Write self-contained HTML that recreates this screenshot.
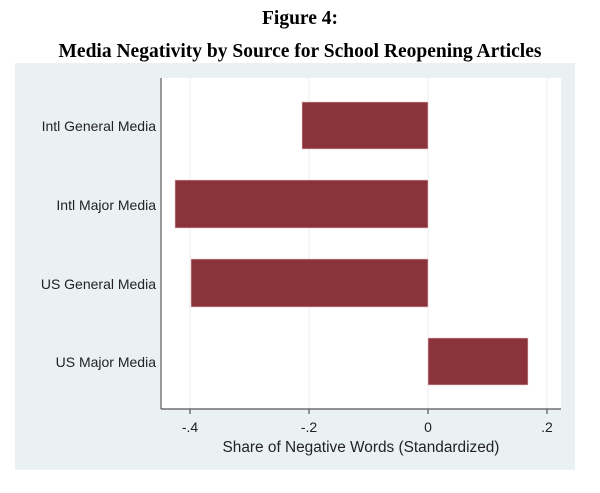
<!DOCTYPE html>
<html><head><style>
body{margin:0;background:#fff;width:600px;height:488px;overflow:hidden}
</style></head><body>
<svg width="600" height="488" xmlns="http://www.w3.org/2000/svg">
<text x="300" y="24" text-anchor="middle" font-family="Liberation Serif" font-weight="bold" font-size="19.5">Figure 4:</text>
<text x="300" y="57" text-anchor="middle" font-family="Liberation Serif" font-weight="bold" font-size="19.5">Media Negativity by Source for School Reopening Articles</text>
<rect x="15" y="63" width="560" height="407" fill="#eaf1f3"/>
<rect x="160" y="78" width="401" height="331" fill="#fff"/>
<g stroke="#e8eef0" stroke-width="1">
<line x1="190" y1="78" x2="190" y2="409"/><line x1="309" y1="78" x2="309" y2="409"/>
<line x1="428" y1="78" x2="428" y2="409"/><line x1="547" y1="78" x2="547" y2="409"/>
</g>
<g fill="#8b333b" stroke="#f0c8cc" stroke-width="0.6">
<rect x="302" y="102" width="126" height="47"/>
<rect x="175" y="180" width="253" height="48"/>
<rect x="191" y="259" width="237" height="48"/>
<rect x="428" y="338" width="100" height="47"/>
</g>
<g stroke="#555" stroke-width="1.2" fill="none">
<line x1="161" y1="78" x2="161" y2="409"/>
<line x1="161" y1="409" x2="561" y2="409"/>
<line x1="190" y1="409" x2="190" y2="414"/><line x1="309" y1="409" x2="309" y2="414"/>
<line x1="428" y1="409" x2="428" y2="414"/><line x1="547" y1="409" x2="547" y2="414"/>
</g>
<g font-family="Liberation Sans" font-size="14" fill="#222" text-anchor="end">
<text x="156" y="131">Intl General Media</text>
<text x="156" y="210">Intl Major Media</text>
<text x="156" y="289">US General Media</text>
<text x="156" y="367">US Major Media</text>
</g>
<g font-family="Liberation Sans" font-size="14" fill="#222" text-anchor="middle">
<text x="190" y="432">-.4</text><text x="309" y="432">-.2</text>
<text x="428" y="432">0</text><text x="547" y="432">.2</text>
<text x="361" y="452" font-size="15.4">Share of Negative Words (Standardized)</text>
</g>
</svg>
</body></html>
